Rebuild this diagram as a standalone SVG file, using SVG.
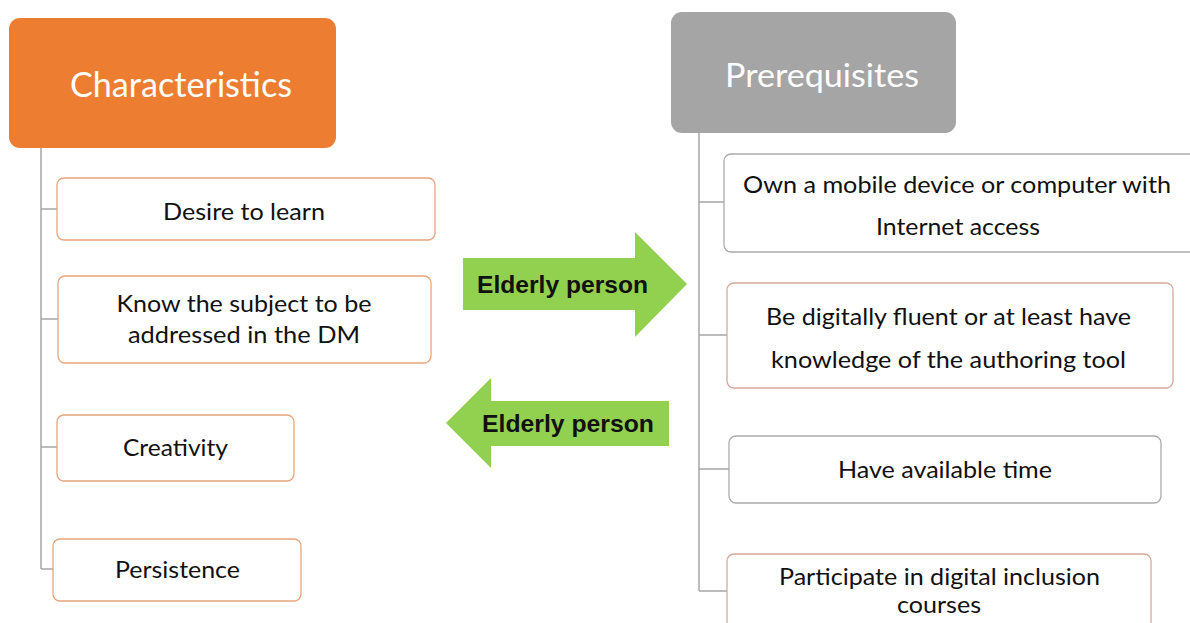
<svg xmlns="http://www.w3.org/2000/svg" width="1190" height="623" viewBox="0 0 1190 623">
  <style>
    .head-o { fill: #ED7D31; }
    .head-g { fill: #A5A5A5; }
    .head-t { font-family: Lato, "Liberation Sans", sans-serif; fill: #ffffff; text-anchor: middle; }
    .item { fill: #ffffff; stroke-width: 1.3; }
    .item-o { stroke: #E8A57C; }
    .item-r { stroke: #D7A89C; }
    .item-g { stroke: #ABABAB; }
    .t { font-family: Lato, "Liberation Sans", sans-serif; font-size: 24px; fill: #111111; text-anchor: middle; }
    .link { fill: none; stroke: #A6A6A6; stroke-width: 1.5; }
    .arrow { fill: #92D050; }
    .at { font-family: "Liberation Sans", Arial, sans-serif; font-weight: bold; font-size: 24px; fill: #111111; }
  </style>

  <rect width="1190" height="623" fill="#ffffff"/>

  <!-- tree connectors -->
  <g id="connectors">
    <path class="link" d="M41 148 V569 M41 209 H57 M41 319 H58 M41 447 H57 M41 569 H53"/>
    <path class="link" d="M699 133 V591 M699 202 H724 M699 335 H727 M699 469 H729 M699 591 H727"/>
  </g>

  <!-- left column -->
  <g id="characteristics">
    <rect class="head-o" x="9" y="18" width="327" height="130" rx="11"/>
    <text class="head-t" x="181" y="97" font-size="34" textLength="222" lengthAdjust="spacingAndGlyphs">Characteristics</text>
  </g>
  <g id="desire">
    <rect class="item item-o" x="57" y="178" width="378" height="62" rx="7"/>
    <text class="t" x="244" y="220" textLength="162" lengthAdjust="spacingAndGlyphs">Desire to learn</text>
  </g>
  <g id="know">
    <rect class="item item-o" x="58" y="276" width="373" height="87" rx="7"/>
    <text class="t" x="244" y="312" textLength="255" lengthAdjust="spacingAndGlyphs">Know the subject to be</text>
    <text class="t" x="244" y="343" textLength="232" lengthAdjust="spacingAndGlyphs">addressed in the DM</text>
  </g>
  <g id="creativity">
    <rect class="item item-o" x="57" y="415" width="237" height="66" rx="7"/>
    <text class="t" x="175.5" y="456" textLength="105" lengthAdjust="spacingAndGlyphs">Creativity</text>
  </g>
  <g id="persistence">
    <rect class="item item-o" x="53" y="539" width="248" height="62" rx="7"/>
    <text class="t" x="177.5" y="578" textLength="125" lengthAdjust="spacingAndGlyphs">Persistence</text>
  </g>

  <!-- arrows between the columns -->
  <g id="arrow-right">
    <path class="arrow" d="M463 258 H635 V232 L687 284 L635 337 V310 H463 Z"/>
    <text class="at" x="477" y="293" textLength="171" lengthAdjust="spacingAndGlyphs">Elderly person</text>
  </g>
  <g id="arrow-left">
    <path class="arrow" d="M669 401 H491 V378 L446 423 L491 468 V446 H669 Z"/>
    <text class="at" x="482" y="432" textLength="172" lengthAdjust="spacingAndGlyphs">Elderly person</text>
  </g>

  <!-- right column -->
  <g id="prerequisites">
    <rect class="head-g" x="671" y="12" width="285" height="121" rx="11"/>
    <text class="head-t" x="822" y="87" font-size="33" textLength="194" lengthAdjust="spacingAndGlyphs">Prerequisites</text>
  </g>
  <g id="own-device">
    <rect class="item item-g" x="724" y="154" width="480" height="98" rx="7"/>
    <text class="t" x="957" y="193" textLength="428" lengthAdjust="spacingAndGlyphs">Own a mobile device or computer with</text>
    <text class="t" x="958" y="235" textLength="164" lengthAdjust="spacingAndGlyphs">Internet access</text>
  </g>
  <g id="digitally-fluent">
    <rect class="item item-r" x="727" y="283" width="446" height="105" rx="7"/>
    <text class="t" x="948.5" y="325" textLength="365" lengthAdjust="spacingAndGlyphs">Be digitally fluent or at least have</text>
    <text class="t" x="948.5" y="368" textLength="355" lengthAdjust="spacingAndGlyphs">knowledge of the authoring tool</text>
  </g>
  <g id="available-time">
    <rect class="item item-g" x="729" y="436" width="432" height="67" rx="7"/>
    <text class="t" x="945" y="478" textLength="214" lengthAdjust="spacingAndGlyphs">Have available time</text>
  </g>
  <g id="inclusion-courses">
    <rect class="item item-r" x="727" y="554" width="424" height="90" rx="7"/>
    <text class="t" x="939.5" y="585" textLength="321" lengthAdjust="spacingAndGlyphs">Participate in digital inclusion</text>
    <text class="t" x="939" y="613" textLength="84" lengthAdjust="spacingAndGlyphs">courses</text>
  </g>
</svg>
